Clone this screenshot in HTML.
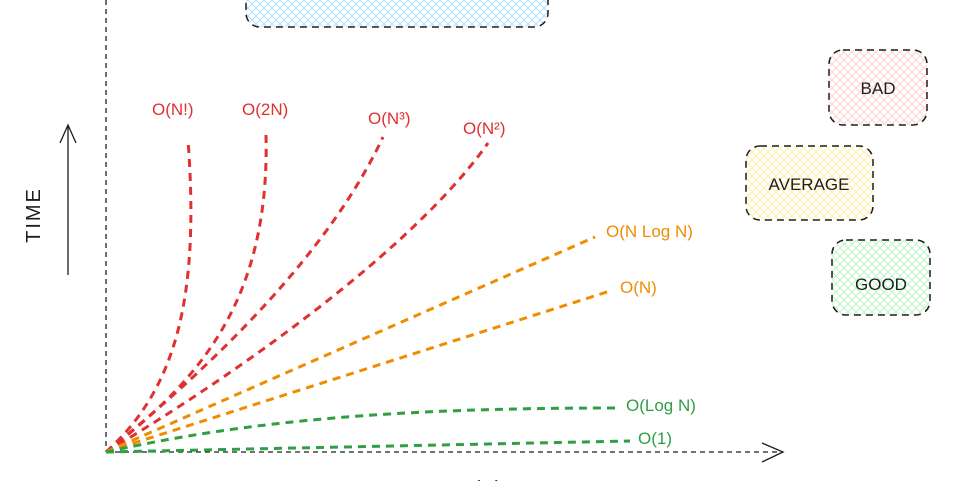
<!DOCTYPE html>
<html><head><style>html,body{margin:0;padding:0;background:#fff}svg{display:block}text{font-family:"Liberation Sans",sans-serif}</style></head>
<body>
<svg width="962" height="481" viewBox="0 0 962 481" xmlns="http://www.w3.org/2000/svg">
<defs>
<pattern id="h1" width="8" height="8" patternUnits="userSpaceOnUse"><path d="M0,0 L8,8 M8,0 L0,8" stroke="#a5d8ff" stroke-width="0.8"/></pattern>
<pattern id="h2" width="8" height="8" patternUnits="userSpaceOnUse"><path d="M0,0 L8,8 M8,0 L0,8" stroke="#ffc9c9" stroke-width="0.8"/></pattern>
<pattern id="h3" width="8" height="8" patternUnits="userSpaceOnUse"><path d="M0,0 L8,8 M8,0 L0,8" stroke="#ffec99" stroke-width="0.8"/></pattern>
<pattern id="h4" width="8" height="8" patternUnits="userSpaceOnUse"><path d="M0,0 L8,8 M8,0 L0,8" stroke="#b2f2bb" stroke-width="0.8"/></pattern>
</defs>
<rect x="246" y="-20" width="302" height="47" rx="14" fill="url(#h1)" stroke="#1e1e1e" stroke-width="1.5" stroke-dasharray="7 5"/>
<rect x="829" y="50" width="98" height="75" rx="14" fill="url(#h2)" stroke="#1e1e1e" stroke-width="1.5" stroke-dasharray="7 5"/>
<rect x="746" y="146" width="127" height="74" rx="14" fill="url(#h3)" stroke="#1e1e1e" stroke-width="1.5" stroke-dasharray="7 5"/>
<rect x="832" y="240" width="98" height="75" rx="14" fill="url(#h4)" stroke="#1e1e1e" stroke-width="1.5" stroke-dasharray="7 5"/>
<text x="878" y="94" font-size="17" text-anchor="middle" fill="#1e1e1e">BAD</text>
<text x="809" y="190" font-size="17" text-anchor="middle" fill="#1e1e1e">AVERAGE</text>
<text x="881" y="290" font-size="17" text-anchor="middle" fill="#1e1e1e">GOOD</text>
<g stroke="#1e1e1e" stroke-width="1.3" fill="none">
<path d="M106,0 L106,452" stroke-dasharray="5 4"/>
<path d="M106,452 L783,452" stroke-dasharray="5 4"/>
<path d="M762,443 L783,452 L762,462"/>
<path d="M68,275 L68,125 M60,143 L68,125 L76,143"/>
</g>
<text transform="translate(40,215) rotate(-90)" font-size="20" text-anchor="middle" fill="#1e1e1e" letter-spacing="2">TIME</text>
<g fill="none" stroke-width="3" stroke-dasharray="8 6">
<g stroke="#e03131">
<path d="M106,452 C175,390 200,300 188,140"/>
<path d="M106,452 C200,380 270,300 266,135"/>
<path d="M106,452 C220,360 330,250 383,137"/>
<path d="M106,452 C260,360 420,240 488,143"/>
</g>
<g stroke="#f08c00">
<path d="M106,452 L595,237"/>
<path d="M106,452 L610,291"/>
</g>
<g stroke="#2f9e44">
<path d="M106,452 C250,420 400,408 615,408"/>
<path d="M106,452 L630,441"/>
</g>
</g>
<g font-size="17">
<text x="152" y="115" fill="#e03131">O(N!)</text>
<text x="242" y="115" fill="#e03131">O(2N)</text>
<text x="368" y="124" fill="#e03131">O(N³)</text>
<text x="463" y="134" fill="#e03131">O(N²)</text>
<text x="606" y="237" fill="#f08c00">O(N Log N)</text>
<text x="620" y="293" fill="#f08c00">O(N)</text>
<text x="626" y="411" fill="#2f9e44">O(Log N)</text>
<text x="638" y="444" fill="#2f9e44">O(1)</text>
</g>
<text x="430" y="495" font-size="20" text-anchor="middle" fill="#1e1e1e">INPUT SIZE (N)</text>
</svg>
</body></html>
